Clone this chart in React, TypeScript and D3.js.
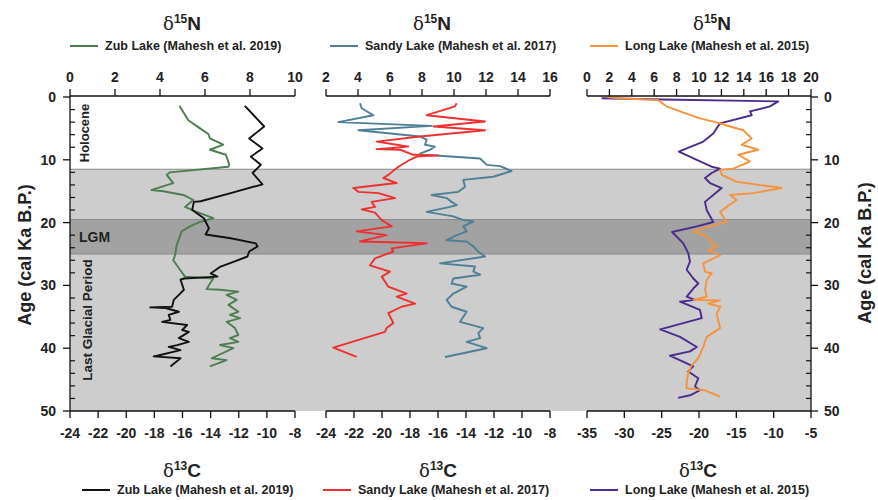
import React from "react";
import * as d3 from "d3";

// ---------- data (age in cal ka BP, value in per mil) ----------
const zubN_age = [1.4,3.7,5.0,5.9,6.6,7.6,8.4,9.2,10.8,11.1,12.0,12.4,13.7,14.8,15.0,15.6,16.4,17.5,18.3,19.3,19.9,20.6,21.4,23.6,25.2,26.0,27.5,28.6,28.9,29.7,30.6,30.7,31.0,31.5,32.3,33.1,34.2,34.7,35.2,35.8,36.8,37.9,38.4,39.0,39.5,40.0,41.6,41.9,42.9];
const zubN_val = [4.86,5.26,5.78,6.15,6.22,6.81,6.22,6.93,7.08,7.04,4.44,4.3,4.59,3.63,4.15,5.04,5.48,5.11,5.63,6.37,5.78,5.33,4.96,4.74,4.67,4.59,4.89,5.11,6.37,6.22,6.07,6.67,7.48,6.96,7.41,7.04,7.48,7.11,7.56,6.96,7.33,7.48,7.11,7.48,6.67,7.26,6.3,6.96,6.22];

const zubC_age = [1.4,4.7,6.6,8.2,9.5,10.8,12.1,13.9,15.3,16.6,16.7,18.0,19.3,20.9,21.9,22.5,23.3,23.8,24.6,25.4,26.2,27.0,28.1,28.6,28.9,29.1,30.7,31.5,32.3,33.4,33.5,33.6,34.2,34.7,35.5,35.8,36.3,37.1,37.4,38.4,39.0,39.5,39.8,40.3,41.2,41.3,41.6,42.9];
const zubC_val = [-11.57,-10.19,-11.26,-10.31,-11.14,-10.43,-11.02,-10.31,-12.57,-14.71,-15.19,-15.31,-14.48,-14.12,-14.36,-12.57,-10.79,-10.67,-11.26,-11.38,-12.33,-13.29,-14.0,-13.52,-15.9,-16.14,-15.9,-16.26,-16.62,-16.74,-18.29,-17.21,-16.26,-16.98,-16.86,-17.45,-15.67,-16.02,-15.55,-16.26,-15.55,-16.38,-16.98,-16.14,-17.81,-18.05,-16.14,-16.86];

const sandyN_age = [1.0,1.8,2.9,4.0,4.6,5.3,6.3,6.8,7.6,7.9,8.4,9.0,9.2,9.4,9.8,10.8,11.0,11.8,12.7,13.2,14.3,15.1,15.6,16.1,16.7,17.2,17.5,18.3,19.0,19.6,19.8,20.6,21.4,22.0,22.8,23.0,23.8,24.6,25.4,26.5,27.0,27.8,28.3,28.9,29.7,30.2,31.3,32.3,33.4,34.2,35.8,36.8,37.6,38.4,39.0,40.0,41.4];
const sandyN_val = [4.13,4.23,4.96,2.77,8.6,4.02,7.88,8.29,8.19,8.81,8.5,7.88,7.98,9.33,11.63,12.04,12.88,13.6,12.46,10.58,10.69,10.27,8.6,9.54,9.85,10.17,9.75,8.29,9.96,10.58,11.21,10.58,10.79,10.17,9.54,10.79,11.21,11.5,11.94,9.13,11.31,11.21,11.63,9.96,9.85,10.79,9.96,9.54,9.85,10.79,10.38,11.83,11.52,11.63,10.79,12.04,9.44];

const sandyC_age = [1.0,1.5,2.9,3.9,4.7,5.3,6.3,7.1,7.6,7.9,8.3,8.4,9.2,9.3,9.5,10.0,11.1,12.4,12.9,13.7,14.5,15.1,15.3,16.1,16.7,17.5,17.9,18.4,19.6,20.6,21.4,22.0,23.0,23.3,24.1,24.6,25.7,26.8,27.8,28.6,30.2,31.3,31.8,32.9,33.4,34.4,36.0,36.8,37.4,39.9,41.4];
const sandyC_val = [-14.67,-14.79,-16.81,-12.64,-16.33,-12.64,-17.29,-20.38,-18.95,-18.12,-20.38,-18.71,-17.76,-15.98,-17.52,-18.0,-18.83,-19.55,-19.9,-18.95,-22.05,-21.69,-20.26,-19.07,-20.74,-20.5,-21.45,-20.5,-20.02,-19.31,-21.81,-19.67,-21.57,-16.81,-19.31,-19.19,-20.5,-20.86,-19.43,-20.02,-19.55,-18.24,-18.95,-17.64,-18.6,-19.55,-19.19,-19.67,-19.79,-23.48,-21.81];

const longN_age = [0.0,0.2,0.5,1.5,2.3,3.4,4.2,4.7,5.3,6.6,7.6,8.4,9.2,10.3,11.4,11.6,12.4,13.5,14.5,15.3,15.6,16.4,17.5,18.3,19.9,20.6,21.4,22.2,23.3,23.8,24.4,25.2,26.5,27.8,28.1,29.1,30.7,31.8,32.3,32.4,32.9,33.4,34.5,36.8,38.2,39.8,41.6,42.7,44.0,45.3,46.4,46.7,47.7];
const longN_val = [1.76,2.95,6.37,7.12,8.3,10.09,11.88,12.77,13.96,14.7,13.81,15.3,13.51,14.55,13.06,11.88,12.03,13.37,17.38,14.85,12.77,13.37,12.47,11.88,12.47,10.98,9.49,10.69,11.13,11.58,10.83,11.88,10.38,10.54,11.13,10.69,10.54,10.69,9.49,11.88,10.83,11.88,11.58,11.88,10.69,10.38,9.94,9.35,9.04,8.9,8.9,10.54,11.88];

const longC_age = [0.2,0.4,0.7,1.5,2.3,2.9,4.2,5.8,7.1,8.7,10.0,11.1,11.4,12.1,12.9,13.7,14.5,15.6,16.7,18.0,19.9,20.6,21.5,23.3,24.9,26.2,27.5,28.9,29.7,30.5,31.8,32.3,32.6,33.9,35.2,37.0,38.2,39.8,40.5,41.2,42.9,43.7,44.8,46.1,46.7,47.5,47.9];
const longC_val = [-33.03,-25.0,-9.38,-10.5,-13.17,-12.94,-17.19,-18.09,-19.42,-22.7,-20.3,-18.3,-17.19,-18.3,-19.2,-18.53,-16.96,-18.09,-19.2,-18.97,-18.09,-20.3,-23.6,-22.1,-21.43,-21.21,-21.65,-20.76,-20.09,-20.76,-21.65,-20.54,-22.54,-19.87,-19.64,-25.2,-22.54,-20.3,-21.2,-23.9,-20.77,-21.43,-20.1,-20.54,-19.87,-21.2,-22.8];

const topTicks1 = [0, 2, 4, 6, 8, 10];
const topTicks2 = [2, 4, 6, 8, 10, 12, 14, 16];
const topTicks3 = [0, 2, 4, 6, 8, 10, 12, 14, 16, 18, 20];
const botTicks1 = [-24, -22, -20, -18, -16, -14, -12, -10, -8];
const botTicks2 = [-24, -22, -20, -18, -16, -14, -12, -10, -8];
const botTicks3 = [-35, -30, -25, -20, -15, -10, -5];
const ageMajor = [0, 10, 20, 30, 40, 50];

const legendN = ["Zub Lake (Mahesh et al. 2019)", "Sandy Lake (Mahesh et al. 2017)", "Long Lake (Mahesh et al. 2015)"];
const legendC = ["Zub Lake (Mahesh et al. 2019)", "Sandy Lake (Mahesh et al. 2017)", "Long Lake (Mahesh et al. 2015)"];

const FONT = "'Liberation Sans', Arial, sans-serif";

const zip = (a: number[], v: number[]) => a.map((x, i) => [x, v[i]] as [number, number]);

export default function App() {
  const W = 878, H = 500;
  const y = d3.scaleLinear().domain([0, 50]).range([97, 411]);
  const panels = [
    { x0: 70, x1: 295, nDom: [0, 10], cDom: [-24, -8], nT: topTicks1, cT: botTicks1,
      n: zip(zubN_age, zubN_val), c: zip(zubC_age, zubC_val), nCol: "#4e7d50", cCol: "#111111",
      nLeg: legendN[0], cLeg: legendC[0], titleX: 182, legX: 70, cLegX: 82, cTitleX: 182 },
    { x0: 326, x1: 550, nDom: [2, 16], cDom: [-24, -8], nT: topTicks2, cT: botTicks2,
      n: zip(sandyN_age, sandyN_val), c: zip(sandyC_age, sandyC_val), nCol: "#4e7f95", cCol: "#ee3030",
      nLeg: legendN[1], cLeg: legendC[1], titleX: 432, legX: 330, cLegX: 323, cTitleX: 438 },
    { x0: 587, x1: 811, nDom: [0, 20], cDom: [-35, -5], nT: topTicks3, cT: botTicks3,
      n: zip(longN_age, longN_val), c: zip(longC_age, longC_val), nCol: "#f7923d", cCol: "#4b2b8d",
      nLeg: legendN[2], cLeg: legendC[2], titleX: 712, legX: 590, cLegX: 590, cTitleX: 698 },
  ];
  const minor = d3.range(0, 51, 2).filter((v) => v % 10 !== 0);

  return (
    <svg width={W} height={H} style={{ position: "absolute", left: 0, top: 0, background: "#fff" }} fontFamily={FONT}>
      {/* bands */}
      <rect x={70} y={y(11.5)} width={741} height={y(50) - y(11.5)} fill="#cdcdcd" />
      <rect x={70} y={y(19.5)} width={741} height={y(25) - y(19.5)} fill="#a2a2a2" />
      {[11.5, 19.5, 25].map((a) => (
        <line key={a} x1={70} x2={811} y1={y(a)} y2={y(a)} stroke="#8c8c8c" strokeWidth={1} />
      ))}

      {/* band labels */}
      <text transform={`translate(89,133) rotate(-90)`} textAnchor="middle" fontSize={13} fontWeight="bold" fill="#222">Holocene</text>
      <text x={79} y={242} fontSize={14} fontWeight="bold" fill="#222">LGM</text>
      <text transform={`translate(92,320) rotate(-90)`} textAnchor="middle" fontSize={13.5} fontWeight="bold" fill="#222">Last Glacial Period</text>

      {panels.map((p, i) => {
        const xn = d3.scaleLinear().domain(p.nDom).range([p.x0, p.x1]);
        const xc = d3.scaleLinear().domain(p.cDom).range([p.x0, p.x1]);
        const lineN = d3.line<[number, number]>().x((d) => xn(d[1])).y((d) => y(d[0]));
        const lineC = d3.line<[number, number]>().x((d) => xc(d[1])).y((d) => y(d[0]));
        const cFirst = i === 2;
        const pathN = <path d={lineN(p.n) || ""} fill="none" stroke={p.nCol} strokeWidth={1.9} strokeLinejoin="round" />;
        const pathC = <path d={lineC(p.c) || ""} fill="none" stroke={p.cCol} strokeWidth={1.9} strokeLinejoin="round" />;
        return (
          <g key={i}>
            {cFirst ? pathC : pathN}
            {cFirst ? pathN : pathC}
            {/* top axis */}
            <line x1={p.x0} x2={p.x1} y1={96} y2={96} stroke="#111" strokeWidth={1.3} />
            {p.nT.map((t) => (
              <g key={t}>
                <line x1={xn(t)} x2={xn(t)} y1={96} y2={89} stroke="#111" strokeWidth={1.3} />
                <text x={xn(t)} y={82} textAnchor="middle" fontSize={14} fontWeight="bold" fill="#222">{t}</text>
              </g>
            ))}
            {/* bottom axis */}
            <line x1={p.x0} x2={p.x1} y1={411} y2={411} stroke="#111" strokeWidth={1.3} />
            {p.cT.map((t) => (
              <g key={t}>
                <line x1={xc(t)} x2={xc(t)} y1={411} y2={418} stroke="#111" strokeWidth={1.3} />
                <text x={xc(t)} y={438} textAnchor="middle" fontSize={14} fontWeight="bold" fill="#222">{t}</text>
              </g>
            ))}
            {/* titles & legends */}
            <text x={p.titleX} y={30} textAnchor="middle" fontSize={19} fill="#222">
              <tspan fontFamily="'DejaVu Serif', serif" fontSize={18}>δ</tspan>
              <tspan fontSize={12} fontWeight="bold" dy={-7}>15</tspan>
              <tspan fontWeight="bold" dy={7}>N</tspan>
            </text>
            <line x1={p.legX} x2={p.legX + 28} y1={46} y2={46} stroke={p.nCol} strokeWidth={2} />
            <text x={p.legX + 35} y={50} fontSize={12.5} fontWeight="bold" fill="#222">{p.nLeg}</text>
            <text x={p.cTitleX} y={477} textAnchor="middle" fontSize={19} fill="#222">
              <tspan fontFamily="'DejaVu Serif', serif" fontSize={18}>δ</tspan>
              <tspan fontSize={12} fontWeight="bold" dy={-7}>13</tspan>
              <tspan fontWeight="bold" dy={7}>C</tspan>
            </text>
            <line x1={p.cLegX} x2={p.cLegX + 28} y1={490} y2={490} stroke={p.cCol} strokeWidth={2} />
            <text x={p.cLegX + 35} y={494} fontSize={12.5} fontWeight="bold" fill="#222">{p.cLeg}</text>
          </g>
        );
      })}

      {/* left age axis */}
      <line x1={70} x2={70} y1={96} y2={411} stroke="#111" strokeWidth={1.3} />
      {ageMajor.map((a) => (
        <g key={a}>
          <line x1={63} x2={70} y1={y(a)} y2={y(a)} stroke="#111" strokeWidth={1.3} />
          <text x={56} y={y(a) + 5} textAnchor="end" fontSize={14} fontWeight="bold" fill="#222">{a}</text>
        </g>
      ))}
      {minor.map((a) => (
        <line key={a} x1={70} x2={75} y1={y(a)} y2={y(a)} stroke="#111" strokeWidth={1.2} />
      ))}
      {/* right age axis */}
      <line x1={811} x2={811} y1={96} y2={411} stroke="#111" strokeWidth={1.3} />
      {ageMajor.map((a) => (
        <g key={a}>
          <line x1={811} x2={818} y1={y(a)} y2={y(a)} stroke="#111" strokeWidth={1.3} />
          <text x={824} y={y(a) + 5} textAnchor="start" fontSize={14} fontWeight="bold" fill="#222">{a}</text>
        </g>
      ))}
      {minor.map((a) => (
        <line key={a} x1={806} x2={811} y1={y(a)} y2={y(a)} stroke="#111" strokeWidth={1.2} />
      ))}

      {/* axis titles */}
      <text transform={`translate(31,255) rotate(-90)`} textAnchor="middle" fontSize={18} fontWeight="bold" fill="#222">Age (cal Ka B.P.)</text>
      <text transform={`translate(871,253) rotate(-90)`} textAnchor="middle" fontSize={18} fontWeight="bold" fill="#222">Age (cal Ka B.P.)</text>
    </svg>
  );
}
